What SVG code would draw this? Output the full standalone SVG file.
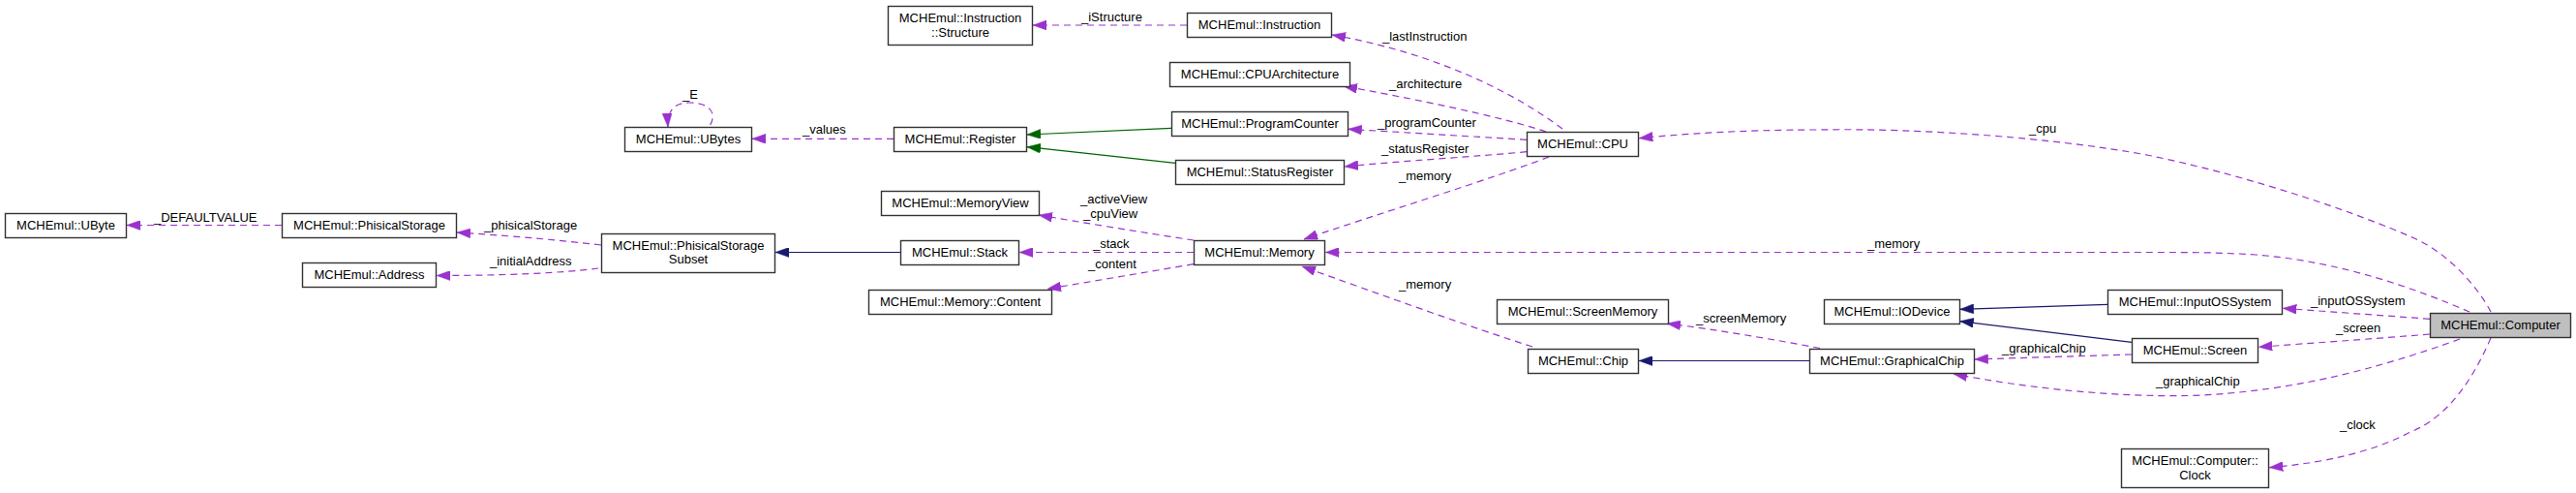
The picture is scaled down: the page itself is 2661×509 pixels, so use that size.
<svg xmlns="http://www.w3.org/2000/svg" width="2661" height="509" viewBox="0 0 2661 509">
<style>
.n rect{fill:#fff;stroke:#333;stroke-width:1.4}
.n.sel rect{fill:#bfbfbf}
.n text{font-family:"Liberation Sans",Arial,sans-serif;font-size:13px;fill:#000;text-anchor:middle}
.e{fill:none;stroke-width:1.2}
.u{stroke:#9a32cd;stroke-dasharray:7,5;marker-end:url(#ap)}
.i{stroke:#191970;marker-end:url(#an)}
.g{stroke:#006400;marker-end:url(#ag)}
.l{font-family:"Liberation Sans",Arial,sans-serif;font-size:13px;fill:#000}
</style>
<defs>
<marker id="ap" markerUnits="userSpaceOnUse" viewBox="0 0 14 10" refX="14" refY="5" markerWidth="14" markerHeight="10" orient="auto"><path d="M0,0 L14,5 L0,10 z" fill="#9a32cd" stroke="#9a32cd" stroke-width="0.5"/></marker>
<marker id="an" markerUnits="userSpaceOnUse" viewBox="0 0 14 10" refX="14" refY="5" markerWidth="14" markerHeight="10" orient="auto"><path d="M0,0 L14,5 L0,10 z" fill="#191970" stroke="#191970" stroke-width="0.5"/></marker>
<marker id="ag" markerUnits="userSpaceOnUse" viewBox="0 0 14 10" refX="14" refY="5" markerWidth="14" markerHeight="10" orient="auto"><path d="M0,0 L14,5 L0,10 z" fill="#006400" stroke="#006400" stroke-width="0.5"/></marker>
</defs>
<rect width="2661" height="509" fill="#fff"/>
<g id="connectors">
<path class="e u" d="M291,232.5 L131,232.5"/>
<path class="e u" d="M621,253 C570,247 520,243 472,240"/>
<path class="e u" d="M618,277 C580,282 520,284.5 451,284.5"/>
<path class="e i" d="M930,260.5 L801,260.5"/>
<path class="e u" d="M733.7,129 C740,118 735,106 712,106 C696,106 689,115 690,131"/>
<path class="e u" d="M923,143.3 L777,143.3"/>
<path class="e g" d="M1210,132.3 L1061,139"/>
<path class="e g" d="M1214,168.3 L1061,151.7"/>
<path class="e u" d="M1226,26 L1067,26"/>
<path class="e u" d="M1614,133 C1570,100 1490,56 1376,36"/>
<path class="e u" d="M1597,136 C1550,120 1450,100 1388,89"/>
<path class="e u" d="M1577,144.3 L1392.7,133.3"/>
<path class="e u" d="M1577,156.7 C1520,162 1450,166 1389,172"/>
<path class="e u" d="M1600,162 C1540,185 1420,222 1347,247"/>
<path class="e u" d="M1233,248 C1180,240 1120,230 1073,222"/>
<path class="e u" d="M1233,260.5 L1053,260.5"/>
<path class="e u" d="M1233,272.7 L1082,298.3"/>
<path class="e u" d="M1583,358 C1520,338 1420,302 1345,275"/>
<path class="e i" d="M1869,372.5 L1693,372.5"/>
<path class="e u" d="M1880,359.5 C1830,350 1770,340 1722,334"/>
<path class="e u" d="M2573,322 C2560,297 2530,262 2494,246 C2440,222 2330,183 2218,160 C2120,142 1980,132 1880,134 C1800,134 1740,138 1693.3,142.7"/>
<path class="e u" d="M2551,322 C2500,300 2420,270 2330,263 C2300,261 2270,260.5 2240,260.5 L1369.3,260.5"/>
<path class="e i" d="M2177,314.3 L2024.7,319.3"/>
<path class="e i" d="M2202,353.3 L2024.7,331.7"/>
<path class="e u" d="M2510,329.3 L2358.3,318.3"/>
<path class="e u" d="M2510,345 C2450,350 2390,354 2333.3,358.3"/>
<path class="e u" d="M2202,366 L2039.7,371"/>
<path class="e u" d="M2541,350 C2480,372 2380,405 2260,408.5 C2180,410 2090,400 2018,386"/>
<path class="e u" d="M2573,349 C2555,390 2530,430 2490,446 C2450,467 2400,478 2344.3,482.7"/>
</g>
<g id="labels">
<text class="l" x="159" y="229">_DEFAULTVALUE</text>
<text class="l" x="500" y="237">_phisicalStorage</text>
<text class="l" x="506" y="274">_initialAddress</text>
<text class="l" x="705" y="102">_E</text>
<text class="l" x="829" y="138">_values</text>
<text class="l" x="1117" y="22">_iStructure</text>
<text class="l" x="1116" y="210">_activeView</text>
<text class="l" x="1119" y="225">_cpuView</text>
<text class="l" x="1129" y="256">_stack</text>
<text class="l" x="1124" y="277">_content</text>
<text class="l" x="1428" y="42">_lastInstruction</text>
<text class="l" x="1435" y="91">_architecture</text>
<text class="l" x="1423" y="131">_programCounter</text>
<text class="l" x="1427" y="158">_statusRegister</text>
<text class="l" x="1445" y="186">_memory</text>
<text class="l" x="1445" y="298">_memory</text>
<text class="l" x="1929" y="256">_memory</text>
<text class="l" x="1752" y="333">_screenMemory</text>
<text class="l" x="2096" y="137">_cpu</text>
<text class="l" x="2068" y="364">_graphicalChip</text>
<text class="l" x="2387" y="315">_inputOSSystem</text>
<text class="l" x="2413" y="343">_screen</text>
<text class="l" x="2227" y="398">_graphicalChip</text>
<text class="l" x="2417" y="443">_clock</text>
</g>
<g id="UByte" class="n"><rect x="5.5" y="220.5" width="125" height="25"/><text x="68" y="236.5">MCHEmul::UByte</text></g>
<g id="PhisicalStorage" class="n"><rect x="291.5" y="220.5" width="180" height="25"/><text x="381.5" y="236.5">MCHEmul::PhisicalStorage</text></g>
<g id="Address" class="n"><rect x="312.5" y="271.5" width="138" height="25"/><text x="381.5" y="287.5">MCHEmul::Address</text></g>
<g id="UBytes" class="n"><rect x="645.5" y="131.5" width="131" height="25"/><text x="711" y="147.5">MCHEmul::UBytes</text></g>
<g id="PhisicalStorageSubset" class="n"><rect x="621.5" y="241.5" width="179" height="40"/><text x="711" y="257.5">MCHEmul::PhisicalStorage</text><text x="711" y="271.5">Subset</text></g>
<g id="InstructionStructure" class="n"><rect x="917.5" y="6.5" width="149" height="40"/><text x="992" y="22.5">MCHEmul::Instruction</text><text x="992" y="37.5">::Structure</text></g>
<g id="Register" class="n"><rect x="923.5" y="131.5" width="137" height="25"/><text x="992" y="147.5">MCHEmul::Register</text></g>
<g id="MemoryView" class="n"><rect x="910.5" y="197.5" width="163" height="25"/><text x="992" y="213.5">MCHEmul::MemoryView</text></g>
<g id="Stack" class="n"><rect x="930.5" y="248.5" width="122" height="25"/><text x="991.5" y="264.5">MCHEmul::Stack</text></g>
<g id="MemoryContent" class="n"><rect x="897.5" y="299.5" width="189" height="25"/><text x="992" y="315.5">MCHEmul::Memory::Content</text></g>
<g id="Instruction" class="n"><rect x="1226.5" y="13.5" width="149" height="25"/><text x="1301" y="29.5">MCHEmul::Instruction</text></g>
<g id="CPUArchitecture" class="n"><rect x="1208.5" y="64.5" width="186" height="25"/><text x="1301.5" y="80.5">MCHEmul::CPUArchitecture</text></g>
<g id="ProgramCounter" class="n"><rect x="1210.5" y="115.5" width="182" height="25"/><text x="1301.5" y="131.5">MCHEmul::ProgramCounter</text></g>
<g id="StatusRegister" class="n"><rect x="1214.5" y="165.5" width="174" height="25"/><text x="1301.5" y="181.5">MCHEmul::StatusRegister</text></g>
<g id="Memory" class="n"><rect x="1233.5" y="248.5" width="135" height="25"/><text x="1301" y="264.5">MCHEmul::Memory</text></g>
<g id="CPU" class="n"><rect x="1577.5" y="136.5" width="115" height="25"/><text x="1635" y="152.5">MCHEmul::CPU</text></g>
<g id="ScreenMemory" class="n"><rect x="1546.5" y="309.5" width="177" height="25"/><text x="1635" y="325.5">MCHEmul::ScreenMemory</text></g>
<g id="Chip" class="n"><rect x="1578.5" y="360.5" width="114" height="25"/><text x="1635.5" y="376.5">MCHEmul::Chip</text></g>
<g id="IODevice" class="n"><rect x="1884.5" y="309.5" width="140" height="25"/><text x="1954.5" y="325.5">MCHEmul::IODevice</text></g>
<g id="GraphicalChip" class="n"><rect x="1869.5" y="360.5" width="170" height="25"/><text x="1954.5" y="376.5">MCHEmul::GraphicalChip</text></g>
<g id="InputOSSystem" class="n"><rect x="2177.5" y="299.5" width="180" height="25"/><text x="2267.5" y="315.5">MCHEmul::InputOSSystem</text></g>
<g id="Screen" class="n"><rect x="2202.5" y="349.5" width="130" height="25"/><text x="2267.5" y="365.5">MCHEmul::Screen</text></g>
<g id="Computer" class="n sel"><rect x="2510.5" y="323.5" width="145" height="25"/><text x="2583" y="339.5">MCHEmul::Computer</text></g>
<g id="ComputerClock" class="n"><rect x="2191.5" y="463.5" width="152" height="40"/><text x="2267.5" y="479.5">MCHEmul::Computer::</text><text x="2267.5" y="494.5">Clock</text></g>
</svg>
